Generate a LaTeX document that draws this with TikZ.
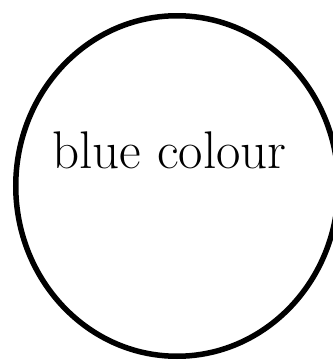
\documentclass[tikz,border=0pt]{standalone}
\usepackage{tikz}
\usetikzlibrary{shapes.geometric, positioning}
\tikzstyle{blob}     = [ellipse, draw=black, line width=5.5pt, inner sep=0pt,
                        minimum width=322.5pt, minimum height=340.5pt]
\tikzstyle{blobtext} = [inner sep=0pt, anchor=base,
                        font=\fontsize{53}{64}\selectfont]

\begin{document}
\begin{tikzpicture}
  \useasboundingbox (0,0) rectangle (333pt,360pt);
  \node[blob]     (shape) at (177pt,174pt) {};
  \node[blobtext] (name)  at (169.5pt,192pt) {blue colour};
\end{tikzpicture}
\end{document}
